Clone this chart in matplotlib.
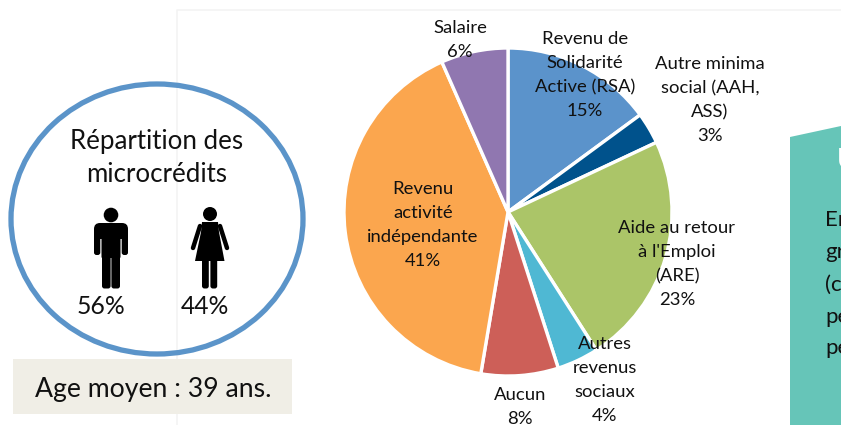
import matplotlib
matplotlib.use("Agg")
import matplotlib.pyplot as plt
from matplotlib.patches import Ellipse, Rectangle, Polygon, Circle, FancyBboxPatch

categories = ["Revenu de\nSolidarité\nActive (RSA)", "Autre minima\nsocial (AAH,\nASS)", "Aide au retour\nà l'Emploi\n(ARE)",
              "Autres\nrevenus\nsociaux", "Aucun", "Revenu\nactivité\nindépendante", "Salaire"]
shares = [14.9, 3.1, 22.9, 4.1, 7.6, 40.7, 6.6]
shown_pct = [15, 3, 23, 4, 8, 41, 6]
colors = ["#5B93CB", "#00528C", "#ABC568", "#4FB8D3", "#CD5F58", "#FBA64E", "#9077B0"]
label_xy = [(585, 75), (710, 100), (677, 264), (605, 380), (520, 407), (423, 225), (460, 40)]

W, H = 841, 425
plt.rcParams['font.family'] = ['Lato', 'DejaVu Sans']
fig = plt.figure(figsize=(W/100, H/100), dpi=100, facecolor="white")
bg = fig.add_axes([0, 0, 1, 1])
bg.set_xlim(0, W); bg.set_ylim(H, 0); bg.axis("off")

# faint chart frame
bg.plot([177, 177, W], [H, 10, 10], color="#F3F3F3", lw=1.2)

# pie
cx, cy, r = 508, 212, 164
ax = fig.add_axes([(cx-r-2)/W, 1-(cy+r+2)/H, (2*r+4)/W, (2*r+4)/H])
ax.pie(shares, colors=colors, startangle=90, counterclock=False, radius=1,
       wedgeprops=dict(edgecolor="white", linewidth=2.4))
ax.set_xlim(-(r+2)/r, (r+2)/r); ax.set_ylim(-(r+2)/r, (r+2)/r); ax.axis("off")

fg = fig.add_axes([0, 0, 1, 1])
fg.set_xlim(0, W); fg.set_ylim(H, 0); fg.axis("off"); fg.patch.set_alpha(0)
for c, p, (x, y) in zip(categories, shown_pct, label_xy):
    fg.text(x, y, f"{c}\n{p}%", ha="center", va="center", fontsize=13.3, color="#111111", linespacing=1.6)

# left circle
fg.add_patch(Ellipse((157, 219), 292, 270, fill=False, ec="#5B94C9", lw=3.8))
fg.text(157, 158, "Répartition des\nmicrocrédits", ha="center", va="center", fontsize=18.6, color="#111111", linespacing=1.36)
fg.text(101, 306, "56%", ha="center", va="center", fontsize=17.8, color="#111111")
fg.text(205, 306, "44%", ha="center", va="center", fontsize=17.8, color="#111111")

def rbox(x, y, w, h, rad, color="black"):
    fg.add_patch(FancyBboxPatch((x, y), w, h, boxstyle=f"round,pad=0,rounding_size={rad}", fc=color, ec="none", lw=0))

# man icon
k = "black"
fg.add_patch(Circle((111, 215), 7.3, color=k, lw=0))
rbox(94, 223, 34, 16, 6)
rbox(94, 230, 6.3, 25, 2.5)
rbox(121.7, 230, 6.3, 25, 2.5)
rbox(101.5, 226, 19, 32, 1)
rbox(102, 250, 8.6, 38.5, 2.5)
rbox(111.4, 250, 8.6, 38.5, 2.5)
# woman icon
fg.add_patch(Circle((210, 214), 7, color=k, lw=0))
fg.add_patch(Polygon([(202, 222), (218, 222), (219, 232), (224.5, 261), (195, 261), (201, 232)], fc=k, ec="none", lw=0))
fg.plot([200, 193], [226, 248], color=k, lw=3.2, solid_capstyle="round")
fg.plot([220, 227], [226, 248], color=k, lw=3.2, solid_capstyle="round")
rbox(202, 258, 6.8, 30.5, 2.5)
rbox(210.4, 258, 6.8, 30.5, 2.5)

# age box
fg.add_patch(Rectangle((13, 359), 279, 55, fc="#F0EEE6", ec="none"))
fg.text(153, 389, "Age moyen : 39 ans.", ha="center", va="center", fontsize=19.2, color="#111111")

# right teal panel, cut by the figure edge
fg.add_patch(Polygon([(790, 137), (W, 126), (W, H), (790, H)], fc="#66C5B8", ec="none"))
fg.text(837, 161, "U", ha="left", va="center", fontsize=21, color="white", fontweight="bold", clip_on=True)
for y, s in zip([220, 252, 285, 317, 348], ["En", "gr", "(c", "pe", "pe"]):
    fg.text(825, y, s, ha="left", va="center", fontsize=16, color="#111111", clip_on=True)

fig.savefig("out.png", dpi=100)
